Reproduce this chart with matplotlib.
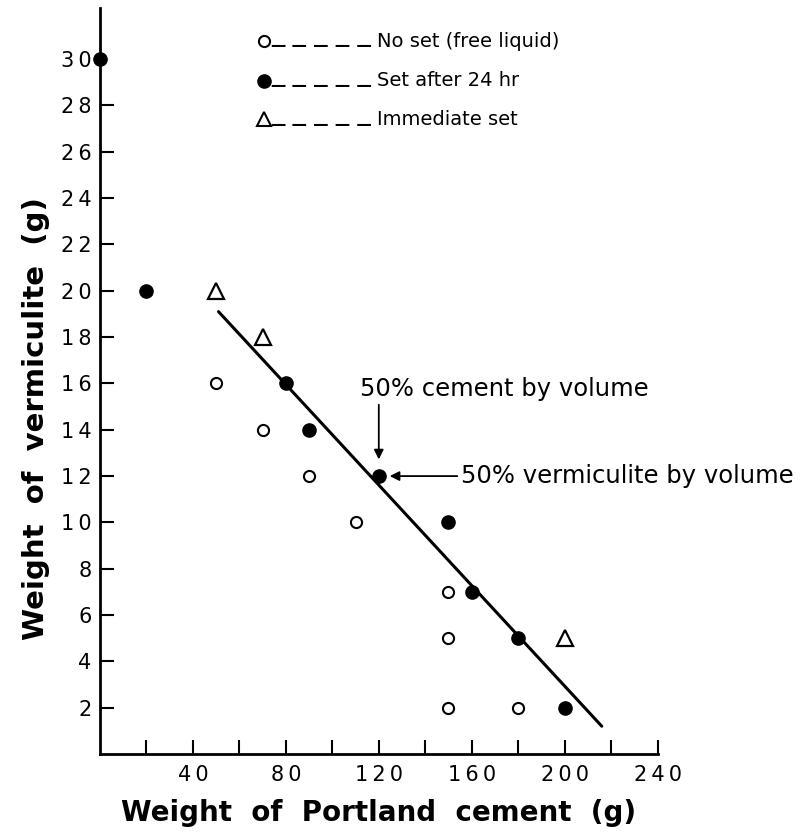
import numpy as np
import matplotlib
matplotlib.use('Agg')
import matplotlib.pyplot as plt
from matplotlib.ticker import FuncFormatter

# data (weights in g)
no_set_x = [50, 70, 90, 110, 150, 150, 150, 180]
no_set_y = [16, 14, 12, 10, 7, 5, 2, 2]
set24_x = [0, 20, 80, 90, 120, 150, 160, 180, 200]
set24_y = [30, 20, 16, 14, 12, 10, 7, 5, 2]
immed_x = [50, 70, 200]
immed_y = [20, 18, 5]
fit_x = [51, 216]
fit_y = [19.1, 1.2]

labels = ['No set (free liquid)', 'Set after 24 hr', 'Immediate set']

plt.rcParams['font.family'] = 'DejaVu Sans'

fig = plt.figure(figsize=(8.08, 8.38), dpi=100)
ax = fig.add_axes([0.1238, 0.1002, 0.69, 0.89])

ax.plot(fit_x, fit_y, color='black', lw=2.2, solid_capstyle='round')
ax.plot(no_set_x, no_set_y, 'o', ms=8, mfc='white', mec='black', mew=1.5,
        clip_on=False)
ax.plot(set24_x, set24_y, 'o', ms=9.5, color='black', clip_on=False)
ax.plot(immed_x, immed_y, '^', ms=11, mfc='white', mec='black', mew=1.6,
        clip_on=False)

# legend drawn by hand, marker then dashes then text
dash = '_ _ _ _ _'
leg_y = [0.956, 0.903, 0.851]
styles = [dict(marker='o', ms=8, mfc='white', mec='black', mew=1.5),
          dict(marker='o', ms=9.5, mfc='black', mec='black'),
          dict(marker='^', ms=10, mfc='white', mec='black', mew=1.5)]
for yy, st, lab in zip(leg_y, styles, labels):
    ax.plot([0.295], [yy], transform=ax.transAxes, linestyle='none', **st)
    ax.text(0.308, yy + 0.009, dash, transform=ax.transAxes, fontsize=19,
            va='center', ha='left')
    ax.text(0.497, yy, lab, transform=ax.transAxes, fontsize=14,
            va='center', ha='left')

# annotations
ax.annotate('', xy=(120, 12.6), xytext=(120, 15.2),
            arrowprops=dict(arrowstyle='-|>', color='black', lw=1.3,
                            mutation_scale=14))
ax.text(112, 15.75, '50% cement by volume', fontsize=17.5,
        va='center', ha='left')
ax.annotate('', xy=(123.5, 12), xytext=(155, 12),
            arrowprops=dict(arrowstyle='-|>', color='black', lw=1.3,
                            mutation_scale=14))
ax.text(155.5, 12, '50% vermiculite by volume', fontsize=17.5,
        va='center', ha='left')

ax.set_xlim(0, 240)
ax.set_ylim(0, 32.2)
ax.set_xticks(np.arange(20, 241, 20))
ax.set_yticks(np.arange(2, 31, 2))


def spaced(v, pos):
    v = int(round(v))
    if v % 40 != 0:
        return ''
    return '\u2009'.join(str(v))


ax.xaxis.set_major_formatter(FuncFormatter(spaced))
ax.yaxis.set_major_formatter(
    FuncFormatter(lambda v, p: '\u2009'.join(str(int(round(v))))))
ax.tick_params(axis='x', direction='in', length=10, width=1.5,
               labelsize=15, pad=8)
ax.tick_params(axis='y', direction='in', length=10, width=1.5,
               labelsize=15, pad=6)
ax.yaxis.get_major_ticks()[-1].tick1line.set_visible(False)

for s in ['top', 'right']:
    ax.spines[s].set_visible(False)
for s in ['left', 'bottom']:
    ax.spines[s].set_linewidth(2)

ax.set_xlabel('Weight  of  Portland  cement  (g)', fontsize=20,
              fontweight='bold', labelpad=10)
ax.set_ylabel('Weight  of  vermiculite  (g)', fontsize=21,
              fontweight='bold', labelpad=12)
ax.yaxis.set_label_coords(-0.09, 0.45)

fig.savefig('out.png', dpi=100)
